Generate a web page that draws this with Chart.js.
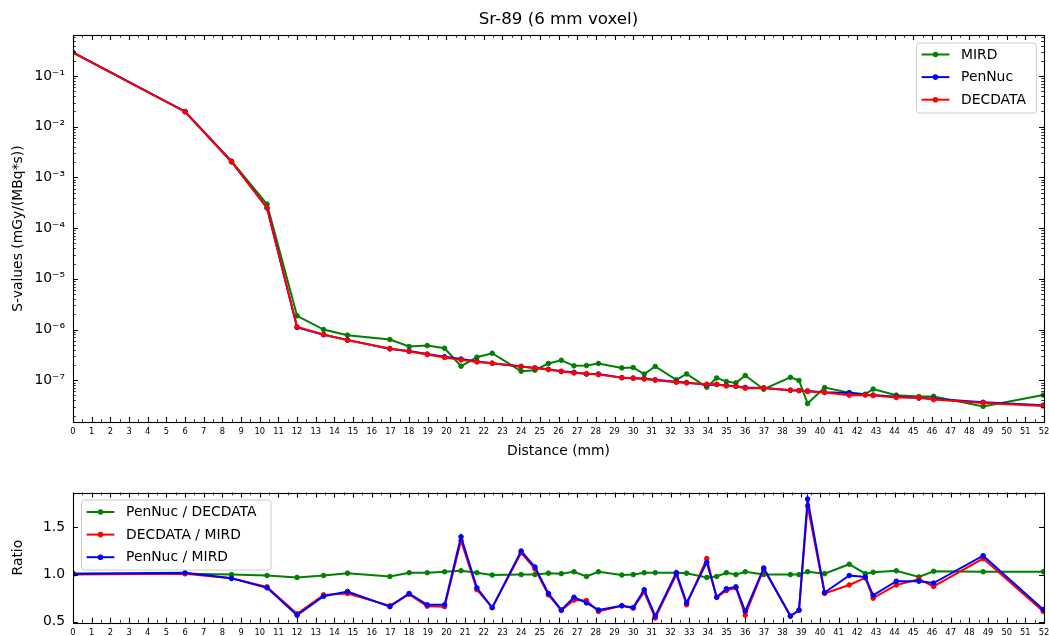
<!DOCTYPE html>
<html>
<head>
<meta charset="utf-8">
<title>Sr-89 (6 mm voxel)</title>
<script src="https://cdn.jsdelivr.net/npm/chart.js@4/dist/chart.umd.min.js"></script>
<style>
  html, body { margin: 0; padding: 0; background: #fff; }
  #wrap { position: relative; width: 1049px; height: 636px; overflow: hidden; }
  canvas { position: absolute; left: 0; }
  #sValues { top: 0; }
  #ratios { top: 470px; }
</style>
</head>
<body>
<div id="wrap">
  <canvas id="sValues" width="1049" height="470"></canvas>
  <canvas id="ratios" width="1049" height="166"></canvas>
</div>
<script>
// Distancias (mm)
const distance = [0, 6, 8.49, 10.39, 12, 13.42, 14.7, 16.97, 18, 18.97, 19.9, 20.78, 21.63, 22.45, 24, 24.74,
  25.46, 26.15, 26.83, 27.5, 28.14, 29.39, 30, 30.59, 31.18, 32.31, 32.86, 33.94, 34.47, 34.99, 35.5, 36,
  36.99, 38.42, 38.88, 39.34, 40.25, 41.57, 42.43, 42.85, 44.09, 45.3, 46.09, 48.74, 51.96];

// S-values (mGy/(MBq*s))
const mird = [2.9e-1, 1.98e-2, 2.1e-3, 2.98e-4, 1.86e-6, 1.0e-6, 7.75e-7, 6.35e-7, 4.62e-7, 4.84e-7, 4.28e-7,
  1.89e-7, 2.85e-7, 3.41e-7, 1.51e-7, 1.58e-7, 2.14e-7, 2.48e-7, 1.92e-7, 1.95e-7, 2.14e-7, 1.75e-7, 1.78e-7,
  1.32e-7, 1.87e-7, 1.02e-7, 1.33e-7, 7.3e-8, 1.11e-7, 9.4e-8, 8.86e-8, 1.24e-7, 6.65e-8, 1.14e-7, 9.9e-8,
  3.46e-8, 7.15e-8, 5.7e-8, 5.3e-8, 6.7e-8, 5.08e-8, 4.78e-8, 4.8e-8, 3.05e-8, 5.1e-8];
const penNuc = [2.93e-1, 2.0e-2, 2.04e-3, 2.5e-4, 1.1e-6, 7.9e-7, 6.25e-7, 4.15e-7, 3.76e-7, 3.28e-7, 2.9e-7,
  2.62e-7, 2.35e-7, 2.16e-7, 1.87e-7, 1.75e-7, 1.64e-7, 1.5e-7, 1.43e-7, 1.32e-7, 1.33e-7, 1.12e-7, 1.1e-7,
  1.08e-7, 1.02e-7, 9.3e-8, 9.0e-8, 8.1e-8, 8.2e-8, 7.9e-8, 7.6e-8, 7.2e-8, 7.06e-8, 6.35e-8, 6.25e-8,
  6.15e-8, 5.77e-8, 5.62e-8, 5.18e-8, 5.1e-8, 4.73e-8, 4.44e-8, 4.3e-8, 3.67e-8, 3.2e-8];
const decdata = [2.9e-1, 1.98e-2, 2.04e-3, 2.52e-4, 1.13e-6, 7.98e-7, 6.16e-7, 4.23e-7, 3.69e-7, 3.22e-7, 2.81e-7,
  2.52e-7, 2.3e-7, 2.17e-7, 1.87e-7, 1.75e-7, 1.62e-7, 1.48e-7, 1.39e-7, 1.35e-7, 1.29e-7, 1.13e-7, 1.1e-7,
  1.06e-7, 1.0e-7, 9.14e-8, 8.86e-8, 8.34e-8, 8.34e-8, 7.73e-8, 7.62e-8, 6.96e-8, 7.06e-8, 6.35e-8, 6.25e-8,
  5.97e-8, 5.71e-8, 5.06e-8, 5.13e-8, 4.98e-8, 4.55e-8, 4.55e-8, 4.15e-8, 3.56e-8, 3.11e-8];

// Razoes
const penNucOverDecdata = [1.01, 1.01, 1.0, 0.99, 0.97, 0.99, 1.015, 0.98, 1.02, 1.02, 1.03, 1.04, 1.02, 0.995,
  1.0, 1.0, 1.015, 1.01, 1.03, 0.98, 1.03, 0.995, 1.0, 1.02, 1.02, 1.02, 1.015, 0.97, 0.98, 1.02, 1.0, 1.03,
  1.0, 1.0, 1.0, 1.03, 1.01, 1.11, 1.01, 1.025, 1.04, 0.975, 1.035, 1.03, 1.03];
const decdataOverMird = [1.0, 1.01, 0.96, 0.87, 0.585, 0.785, 0.8, 0.67, 0.79, 0.665, 0.66, 1.36, 0.84, 0.65,
  1.23, 1.06, 0.785, 0.62, 0.73, 0.725, 0.61, 0.67, 0.645, 0.815, 0.54, 1.0, 0.68, 1.17, 0.76, 0.83, 0.86, 0.57,
  1.06, 0.56, 0.62, 1.73, 0.8, 0.89, 0.965, 0.75, 0.89, 0.95, 0.875, 1.17, 0.61];
const penNucOverMird = [1.01, 1.02, 0.96, 0.86, 0.57, 0.77, 0.82, 0.66, 0.8, 0.68, 0.68, 1.4, 0.86, 0.65,
  1.25, 1.08, 0.8, 0.625, 0.76, 0.7, 0.625, 0.67, 0.65, 0.84, 0.56, 1.02, 0.7, 1.13, 0.76, 0.85, 0.87, 0.61,
  1.07, 0.56, 0.625, 1.8, 0.81, 0.99, 0.975, 0.78, 0.93, 0.93, 0.91, 1.2, 0.63];

// Ticks
const sValueTicks = [1e-7, 1e-6, 1e-5, 1e-4, 1e-3, 1e-2, 1e-1];
const sValueTickLabels = ['10⁻⁷', '10⁻⁶', '10⁻⁵', '10⁻⁴', '10⁻³', '10⁻²', '10⁻¹'];
const ratioTicks = [0.5, 1.0, 1.5];
const ratioTickLabels = ['0.5', '1.0', '1.5'];

const FONT = "'DejaVu Sans', sans-serif";
Chart.defaults.color = '#000';
Chart.defaults.font.family = FONT;

// Moldura e ticks para dentro (estilo matplotlib)
const mplFrame = {
    id: 'mplFrame',
    afterDraw(chart, args, opts) {
        const { ctx, chartArea: a, scales: { x, y } } = chart;
        const snap = v => Math.round(v) + 0.5;
        ctx.save();
        ctx.strokeStyle = '#000';

        const drawTicks = (list, len, width) => {
            ctx.lineWidth = width;
            ctx.beginPath();
            list.forEach(t => {
                if (t.axis === 'x') {
                    const px = snap(x.getPixelForValue(t.v));
                    ctx.moveTo(px, a.bottom); ctx.lineTo(px, a.bottom - len);
                    ctx.moveTo(px, a.top); ctx.lineTo(px, a.top + len);
                } else {
                    const py = snap(y.getPixelForValue(t.v));
                    ctx.moveTo(a.left, py); ctx.lineTo(a.left + len, py);
                    ctx.moveTo(a.right, py); ctx.lineTo(a.right - len, py);
                }
            });
            ctx.stroke();
        };

        const major = [], minor = [];
        for (let i = 0; i <= 104; i++) {
            (i % 2 === 0 ? major : minor).push({ axis: 'x', v: i / 2 });
        }
        opts.yMajor.forEach(v => major.push({ axis: 'y', v }));
        if (opts.logMinor) {
            for (let e = -9; e <= 0; e++) {
                for (let m = 2; m <= 9; m++) {
                    const v = m * Math.pow(10, e);
                    if (v > y.min && v < y.max) minor.push({ axis: 'y', v });
                }
            }
        }
        drawTicks(major, 4.9, 1.1);
        drawTicks(minor, 2.8, 0.8);

        ctx.lineWidth = 1.1;
        ctx.strokeRect(snap(a.left), snap(a.top), Math.round(a.right - a.left), Math.round(a.bottom - a.top));
        ctx.restore();
    }
};

// Legenda dentro do grafico
const mplLegend = {
    id: 'mplLegend',
    afterDraw(chart, args, o) {
        const ctx = chart.ctx;
        ctx.save();
        ctx.beginPath();
        ctx.roundRect(o.left + 0.5, o.top + 0.5, o.width, o.height, 3);
        ctx.fillStyle = 'rgba(255,255,255,0.8)';
        ctx.fill();
        ctx.strokeStyle = '#cccccc';
        ctx.lineWidth = 1;
        ctx.stroke();

        chart.data.datasets.forEach((ds, i) => {
            const yy = o.top + o.firstRow + i * o.rowGap;
            const x1 = o.left + 5.6, x2 = o.left + 33.4;
            ctx.strokeStyle = ds.borderColor;
            ctx.lineWidth = 2;
            ctx.beginPath();
            ctx.moveTo(x1, yy); ctx.lineTo(x2, yy);
            ctx.stroke();
            ctx.fillStyle = ds.borderColor;
            ctx.beginPath();
            ctx.arc((x1 + x2) / 2, yy, 2.8, 0, Math.PI * 2);
            ctx.fill();
            ctx.fillStyle = '#000';
            ctx.font = `13.9px ${FONT}`;
            ctx.textBaseline = 'middle';
            ctx.fillText(ds.label, o.left + 45, yy + 0.5);
        });
        ctx.restore();
    }
};

function series(label, ys, color, order) {
    return {
        label, order,
        data: distance.map((d, i) => ({ x: d, y: ys[i] })),
        borderColor: color,
        backgroundColor: color,
        borderWidth: 2,
        pointRadius: 2.3,
        pointBorderWidth: 1,
        pointHoverRadius: 0,
        tension: 0,
        fill: false
    };
}

function distanceScale(height, showTitle) {
    return {
        type: 'linear', min: 0, max: 52, bounds: 'data',
        grid: { display: false, drawTicks: false },
        border: { display: false },
        afterFit: s => { s.height = height; s.paddingLeft = 0; s.paddingRight = 0; },
        ticks: {
            stepSize: 1, autoSkip: false, maxRotation: 0, minRotation: 0, padding: 5,
            color: '#000', font: { family: FONT, size: 8.3 }
        },
        title: {
            display: showTitle, text: 'Distance (mm)', color: '#000',
            font: { family: FONT, size: 13.9 }, padding: { top: 0, bottom: 10.6 }
        }
    };
}

function valueScale(extra) {
    return Object.assign({
        bounds: 'data',
        grid: { display: false, drawTicks: false },
        border: { display: false },
        afterFit: s => { s.width = 73; s.paddingTop = 0; s.paddingBottom = 0; }
    }, extra);
}

// Grafico de S-values
new Chart(document.getElementById('sValues'), {
    type: 'line',
    data: {
        datasets: [
            series('MIRD', mird, '#008000', 3),
            series('PenNuc', penNuc, '#0000ff', 2),
            series('DECDATA', decdata, '#ff0000', 1)
        ]
    },
    options: {
        responsive: false,
        animation: false,
        events: [],
        layout: { padding: { right: 5 } },
        plugins: {
            legend: { display: false },
            tooltip: { enabled: false },
            title: {
                display: true, text: 'Sr-89 (6 mm voxel)', fullSize: false, color: '#000',
                font: { family: FONT, size: 16.7, weight: 'normal' }, padding: { top: 10, bottom: 5 }
            },
            mplFrame: { yMajor: sValueTicks, logMinor: true },
            mplLegend: { left: 916, top: 42.5, width: 120, height: 70, firstRow: 12, rowGap: 22.6 }
        },
        scales: {
            x: distanceScale(48, true),
            y: valueScale({
                type: 'logarithmic', min: 1.5e-8, max: 0.644,
                afterBuildTicks: s => { s.ticks = sValueTicks.map(v => ({ value: v })); },
                ticks: {
                    padding: 8, autoSkip: false, color: '#000', font: { family: FONT, size: 13.9 },
                    callback: (v, i) => sValueTickLabels[i]
                },
                title: {
                    display: true, text: 'S-values (mGy/(MBq*s))', color: '#000',
                    font: { family: FONT, size: 13.9 }, padding: { top: 10, bottom: 0 }
                }
            })
        }
    },
    plugins: [mplFrame, mplLegend]
});

// Grafico das razoes
new Chart(document.getElementById('ratios'), {
    type: 'line',
    data: {
        datasets: [
            series('PenNuc / DECDATA', penNucOverDecdata, '#008000', 3),
            series('DECDATA / MIRD', decdataOverMird, '#ff0000', 2),
            series('PenNuc / MIRD', penNucOverMird, '#0000ff', 1)
        ]
    },
    options: {
        responsive: false,
        animation: false,
        events: [],
        layout: { padding: { top: 22.5, right: 5 } },
        plugins: {
            legend: { display: false },
            tooltip: { enabled: false },
            mplFrame: { yMajor: ratioTicks, logMinor: false },
            mplLegend: { left: 81, top: 29.5, width: 189.5, height: 70, firstRow: 12.5, rowGap: 22.6 }
        },
        scales: {
            x: distanceScale(13.3, false),
            y: valueScale({
                type: 'linear', min: 0.49, max: 1.87,
                afterBuildTicks: s => { s.ticks = ratioTicks.map(v => ({ value: v })); },
                ticks: {
                    padding: 8, autoSkip: false, color: '#000', font: { family: FONT, size: 13.9 },
                    callback: (v, i) => ratioTickLabels[i]
                },
                title: {
                    display: true, text: 'Ratio', color: '#000',
                    font: { family: FONT, size: 13.9 }, padding: { top: 10, bottom: 0 }
                }
            })
        }
    },
    plugins: [mplFrame, mplLegend]
});
</script>
</body>
</html>
